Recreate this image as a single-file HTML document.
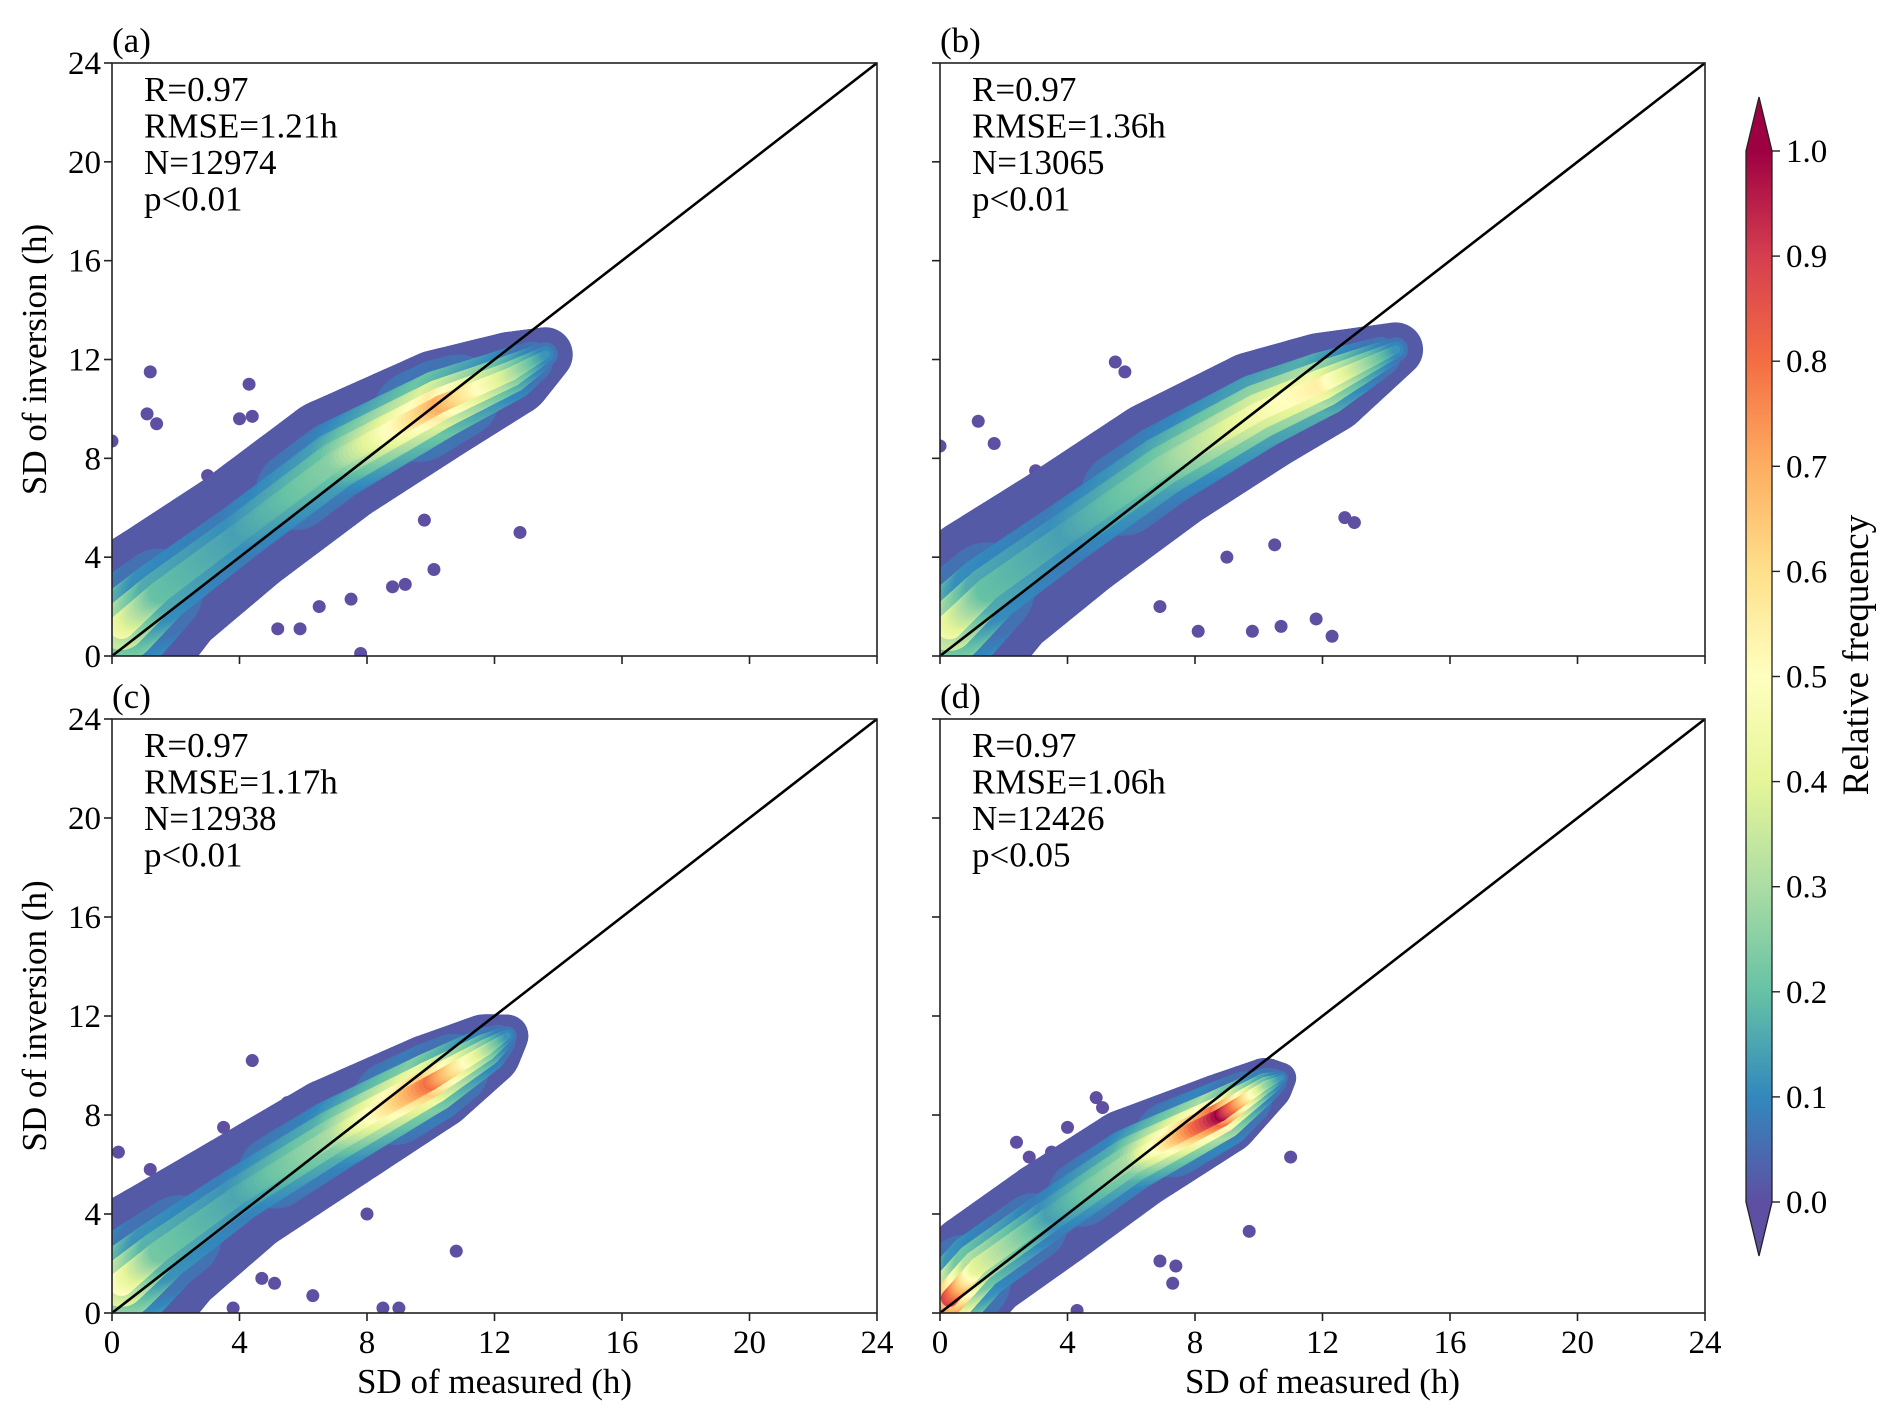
<!DOCTYPE html>
<html><head><meta charset="utf-8"><style>
html,body{margin:0;padding:0;background:#fff}
svg{display:block;font-family:"Liberation Serif",serif}
</style></head><body>
<svg id="fig" width="1892" height="1421" viewBox="0 0 1892 1421" xmlns="http://www.w3.org/2000/svg">
<defs>
<linearGradient id="cbg" x1="0" y1="1" x2="0" y2="0">
<stop offset="0" stop-color="#5e4fa2"/><stop offset="0.1" stop-color="#3288bd"/><stop offset="0.2" stop-color="#66c2a5"/><stop offset="0.3" stop-color="#abdda4"/><stop offset="0.4" stop-color="#e6f598"/><stop offset="0.5" stop-color="#ffffbf"/><stop offset="0.6" stop-color="#fee08b"/><stop offset="0.7" stop-color="#fdae61"/><stop offset="0.8" stop-color="#f46d43"/><stop offset="0.9" stop-color="#d53e4f"/><stop offset="1" stop-color="#9e0142"/>
</linearGradient>
</defs>
<g id="root"></g>
</svg>
<script>
const ticks = [0,4,8,12,16,20,24];
const cbTicks = [0.0,0.1,0.2,0.3,0.4,0.5,0.6,0.7,0.8,0.9,1.0];
const panelLetters = ['(a)','(b)','(c)','(d)'];
const statR = ['R=0.97','R=0.97','R=0.97','R=0.97'];
const statRMSE = ['RMSE=1.21h','RMSE=1.36h','RMSE=1.17h','RMSE=1.06h'];
const statN = ['N=12974','N=13065','N=12938','N=12426'];
const statP = ['p<0.01','p<0.01','p<0.01','p<0.05'];
// ridge: [x, y, halfwidth, peak relative frequency]
const ridgeA = [[0.3,1.2,2.6,0.45],[1.5,2.6,2.3,0.2],[4,5,2.1,0.14],[7,7.9,2.1,0.25],[10.3,10.2,1.8,0.7],[12.5,11.4,1.4,0.35],[13.6,12.2,0.9,0.12]];
const ridgeB = [[0.3,1.2,2.7,0.45],[1.5,2.7,2.5,0.2],[4,5,2.3,0.14],[7,7.7,2.2,0.25],[10,9.9,2.0,0.45],[12,11,1.7,0.55],[14.3,12.4,0.9,0.12]];
const ridgeC = [[0.3,1.2,2.6,0.5],[1.5,2.5,2.3,0.22],[4,4.8,2.0,0.15],[7,7.2,1.9,0.3],[10,9.3,1.6,0.8],[11.7,10.6,1.2,0.35],[12.4,11.2,0.7,0.12]];
const ridgeD = [[0.3,0.6,1.8,0.9],[1.2,1.9,1.8,0.4],[3.5,4,1.8,0.14],[6,6.2,1.7,0.3],[8.8,8,1.35,1.0],[10.2,9.2,0.9,0.3],[10.7,9.5,0.5,0.12]];
const outA = [[1.2,11.5],[1.1,9.8],[1.4,9.4],[4.3,11],[4.4,9.7],[12.8,5],[10.1,3.5],[8.8,2.8],[9.2,2.9],[7.5,2.3],[7.8,0.1],[5.9,1.1],[5.2,1.1],[6.5,2],[0,8.7],[4,9.6],[3,7.3],[6.6,9.5],[9.8,5.5],[8.5,6.8]];
const outB = [[5.5,11.9],[5.8,11.5],[1.2,9.5],[1.7,8.6],[4.6,8.4],[12.7,5.6],[13,5.4],[11.8,1.5],[12.3,0.8],[10.7,1.2],[9.8,1],[8.1,1],[6.9,2],[0,8.5],[3,7.5],[9,4],[10.5,4.5]];
const outC = [[4.4,10.2],[0.2,6.5],[1.2,5.8],[8.5,0.2],[9,0.2],[10.8,2.5],[6.3,0.7],[5.1,1.2],[3.8,0.2],[4.7,1.4],[3.5,7.5],[5.5,8.5],[8,4]];
const outD = [[4.9,8.7],[5.1,8.3],[2.4,6.9],[2.8,6.3],[9.7,3.3],[11,6.3],[6.9,2.1],[7.3,1.2],[7.4,1.9],[4.3,0.1],[2.1,1.3],[4,7.5],[3.5,6.5]];
const ridges=[ridgeA,ridgeB,ridgeC,ridgeD];
const outliers=[outA,outB,outC,outD];

const NS='http://www.w3.org/2000/svg';
const root=document.getElementById('root');
function mk(tag,attrs,parent){const e=document.createElementNS(NS,tag);for(const k in attrs)e.setAttribute(k,attrs[k]);(parent||root).appendChild(e);return e;}
const cmapStops=['#5e4fa2','#3288bd','#66c2a5','#abdda4','#e6f598','#ffffbf','#fee08b','#fdae61','#f46d43','#d53e4f','#9e0142'];
function hex(c){return [parseInt(c.substr(1,2),16),parseInt(c.substr(3,2),16),parseInt(c.substr(5,2),16)];}
function cmap(v){v=Math.max(0,Math.min(1,v))*10;const i=Math.min(9,Math.floor(v)),t=v-i;const a=hex(cmapStops[i]),b=hex(cmapStops[i+1]);return 'rgb('+a.map((x,k)=>Math.round(x+(b[k]-x)*t)).join(',')+')';}

const panels=[{x0:112,x1:877,y0:63,y1:656},{x0:940,x1:1705,y0:63,y1:656},{x0:112,x1:877,y0:719,y1:1313},{x0:940,x1:1705,y0:719,y1:1313}];
panels.forEach((p,pi)=>{
  const sx=v=>p.x0+(v/24)*(p.x1-p.x0), sy=v=>p.y1-(v/24)*(p.y1-p.y0);
  const g=mk('g',{});
  
  
  const cid='clip'+pi;
  const cp=mk('clipPath',{id:cid},g);mk('rect',{x:p.x0,y:p.y0,width:p.x1-p.x0,height:p.y1-p.y0},cp);
  const sc=mk('g',{'clip-path':'url(#'+cid+')'},g);
  
  
  const pxu=(p.x1-p.x0)/24;
  outliers[pi].forEach(o=>{const c=mk('circle',{cx:sx(o[0]),cy:sy(o[1]),r:6.5,fill:'#5e4fa2'},sc);
    
    });
  const R=ridges[pi];
  const fr=[1,0.82,0.62,0.45,0.3,0.16];
  const tl=[0.02,0.1,0.3,0.55,0.8,1.0];
  fr.forEach((f,li)=>{
    const lg=mk('g',{},sc);
    
    
    for(let i=0;i<R.length-1;i++){
      const a=R[i],b=R[i+1];const steps=24;
      for(let s=0;s<=steps;s++){const t=s/steps;
        const x=a[0]+(b[0]-a[0])*t,y=a[1]+(b[1]-a[1])*t,w=a[2]+(b[2]-a[2])*t,v=a[3]+(b[3]-a[3])*t;
        const val=Math.max(0.02,v*tl[li]);
        if(li>0&&val<0.06)continue;
        mk('circle',{cx:sx(x),cy:sy(y),r:w*f*pxu*0.95,fill:cmap(val)},lg);}
    }
  });
  const d=mk('line',{x1:sx(0),y1:sy(0),x2:sx(24),y2:sy(24),stroke:'#000','stroke-width':2.6},g);
  
  
  const fr2=mk('rect',{x:p.x0,y:p.y0,width:p.x1-p.x0,height:p.y1-p.y0,fill:'none',stroke:'#222','stroke-width':1.6},g);
  
  
  ticks.forEach(t=>{
    mk('line',{x1:sx(t),x2:sx(t),y1:p.y1,y2:p.y1+8,stroke:'#222','stroke-width':1.6},g);
    mk('line',{x1:p.x0,x2:p.x0-8,y1:sy(t),y2:sy(t),stroke:'#222','stroke-width':1.6},g);
    if(pi>=2){const tx=mk('text',{x:sx(t),y:p.y1+40,'text-anchor':'middle','font-size':33},g);tx.textContent=t;
      
      }
    if(pi%2===0){const ty=mk('text',{x:p.x0-11,y:sy(t)+11,'text-anchor':'end','font-size':33},g);ty.textContent=t;
      
      }
  });
  const lt=mk('text',{x:p.x0+0,y:p.y0-11,'font-size':35},g);lt.textContent=panelLetters[pi];
  
  
  [statR[pi],statRMSE[pi],statN[pi],statP[pi]].forEach((s,k)=>{
    const t=mk('text',{x:p.x0+32,y:p.y0+38+k*36.5,'font-size':35},g);t.textContent=s;
    
    });
  if(pi>=2){const xt=mk('text',{x:(p.x0+p.x1)/2,y:1393,'text-anchor':'middle','font-size':35},g);xt.textContent='SD of measured (h)';
    
    }
  if(pi%2===0){const cy=(p.y0+p.y1)/2;const yt=mk('text',{x:0,y:0,transform:'translate(46,'+cy+') rotate(-90)','text-anchor':'middle','font-size':35},g);yt.textContent='SD of inversion (h)';
    
    }
});
const cb={x0:1746,x1:1772,y0:151,y1:1202};
const cbg=mk('g',{});


mk('rect',{x:cb.x0,y:cb.y0,width:cb.x1-cb.x0,height:cb.y1-cb.y0,fill:'url(#cbg)'},cbg);
mk('polygon',{points:`${cb.x0},${cb.y0} ${cb.x1},${cb.y0} ${(cb.x0+cb.x1)/2},97`,fill:'#9e0142'},cbg);
mk('polygon',{points:`${cb.x0},${cb.y1} ${cb.x1},${cb.y1} ${(cb.x0+cb.x1)/2},1256`,fill:'#5e4fa2'},cbg);
mk('polygon',{points:`${cb.x0},${cb.y1} ${(cb.x0+cb.x1)/2},1256 ${cb.x1},${cb.y1} ${cb.x1},${cb.y0} ${(cb.x0+cb.x1)/2},97 ${cb.x0},${cb.y0}`,fill:'none',stroke:'#222','stroke-width':1.3},cbg);
cbTicks.forEach(v=>{const y=cb.y1-v*(cb.y1-cb.y0);
  mk('line',{x1:cb.x1,x2:cb.x1+8,y1:y,y2:y,stroke:'#222','stroke-width':1.4},cbg);
  const t=mk('text',{x:cb.x1+14,y:y+11,'font-size':33},cbg);t.textContent=v.toFixed(1);
  
  });
const cbl=mk('text',{x:0,y:0,transform:'translate(1868,655) rotate(-90)','text-anchor':'middle','font-size':37},cbg);
cbl.textContent='Relative frequency';


</script>
</body></html>
